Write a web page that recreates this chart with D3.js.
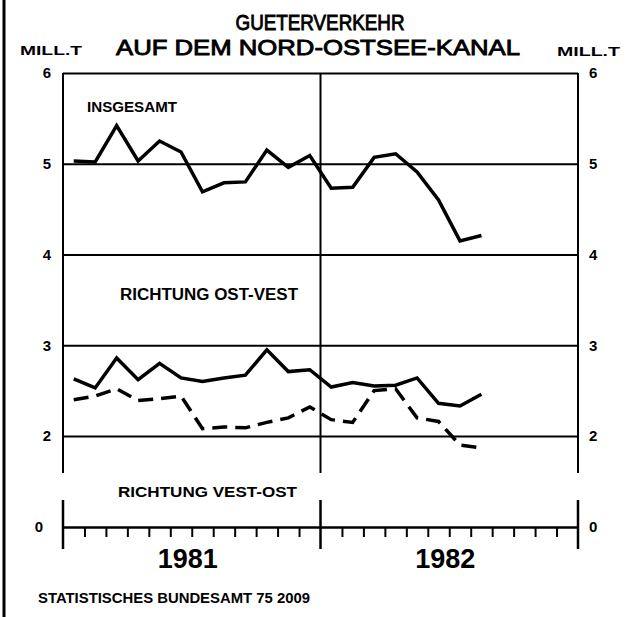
<!DOCTYPE html>
<html>
<head>
<meta charset="utf-8">
<script src="https://cdn.jsdelivr.net/npm/d3@7"></script>
<style>
  body { margin: 0; background: #fff; }
  svg { display: block; }
  text { font-family: "Liberation Sans", Arial, sans-serif; fill: #000; }
</style>
</head>
<body>
<script>
// monthly values, Jan 1981 - Aug 1982 (mill. t)
var months = ["J81","F81","M81","A81","M81","J81","J81","A81","S81","O81","N81","D81",
              "J82","F82","M82","A82","M82","J82","J82","A82"];
var insgesamt = [5.03, 5.02, 5.42, 5.03, 5.25, 5.13, 4.69, 4.79, 4.80, 5.15, 4.96, 5.09,
                 4.73, 4.74, 5.07, 5.11, 4.91, 4.60, 4.15, 4.21];
var ostWest   = [2.63, 2.53, 2.86, 2.62, 2.80, 2.64, 2.60, 2.64, 2.67, 2.95, 2.71, 2.73,
                 2.54, 2.59, 2.55, 2.56, 2.64, 2.36, 2.33, 2.46];
var westOst   = [2.40, 2.44, 2.52, 2.39, 2.41, 2.44, 2.08, 2.10, 2.09, 2.15, 2.20, 2.32,
                 2.18, 2.15, 2.50, 2.52, 2.20, 2.16, 1.80, 1.74];
var years = ["1981", "1982"];
var gridTicks = [2, 3, 4, 5, 6];
var rightTicks = [0, 2, 3, 4, 5, 6];

var W = 632, H = 617;
var left = 63, right = 578;

var svg = d3.select("body").append("svg")
    .attr("width", W)
    .attr("height", H);

// x: months 0..24, points at mid month
var x = d3.scaleLinear().domain([0, 24]).range([left, right]);
// y: broken axis, 0 sits just below 2
var y = d3.scaleLinear().domain([0, 2, 6]).range([527, 436, 73]);

// page border on the left
svg.append("line")
    .attr("x1", 4).attr("x2", 4).attr("y1", 0).attr("y2", H)
    .attr("stroke", "#000").attr("stroke-width", 3);

// title
svg.append("text").attr("x", 320).attr("y", 30)
    .attr("text-anchor", "middle").style("font-size", "22px")
    .attr("textLength", 169).attr("lengthAdjust", "spacingAndGlyphs")
    .attr("stroke", "#000").attr("stroke-width", 0.9)
    .text("GUETERVERKEHR");
svg.append("text").attr("x", 318).attr("y", 55)
    .attr("text-anchor", "middle").style("font-size", "22px")
    .attr("textLength", 404).attr("lengthAdjust", "spacingAndGlyphs")
    .attr("stroke", "#000").attr("stroke-width", 0.9)
    .text("AUF DEM NORD-OSTSEE-KANAL");

// unit labels
svg.append("text").attr("x", 20).attr("y", 55)
    .style("font-size", "13px").style("font-weight", "bold")
    .attr("textLength", 62).attr("lengthAdjust", "spacingAndGlyphs")
    .text("MILL.T");
svg.append("text").attr("x", 557).attr("y", 56)
    .style("font-size", "13px").style("font-weight", "bold")
    .attr("textLength", 63).attr("lengthAdjust", "spacingAndGlyphs")
    .text("MILL.T");

// gridlines + left labels
var yAxisL = d3.axisLeft(y).tickValues(gridTicks)
    .tickSizeInner(-(right - left)).tickSizeOuter(0).tickPadding(12)
    .tickFormat(d3.format("d"));
var gL = svg.append("g").attr("transform", "translate(" + left + ",0)").call(yAxisL);
gL.select(".domain").remove();
gL.selectAll(".tick line").attr("stroke", "#000").attr("stroke-width", 2);
gL.selectAll(".tick text").style("font-size", "15px").style("font-weight", "bold")
    .style("font-family", "Liberation Sans, Arial, sans-serif");

// 0 label on the left
var yAxisL0 = d3.axisLeft(y).tickValues([0]).tickSize(0).tickPadding(20)
    .tickFormat(d3.format("d"));
var gL0 = svg.append("g").attr("transform", "translate(" + left + ",0)").call(yAxisL0);
gL0.select(".domain").remove();
gL0.selectAll(".tick text").style("font-size", "15px").style("font-weight", "bold")
    .style("font-family", "Liberation Sans, Arial, sans-serif");

// right labels
var yAxisR = d3.axisRight(y).tickValues(rightTicks).tickSize(0).tickPadding(11)
    .tickFormat(d3.format("d"));
var gR = svg.append("g").attr("transform", "translate(" + right + ",0)").call(yAxisR);
gR.select(".domain").remove();
gR.selectAll(".tick text").style("font-size", "15px").style("font-weight", "bold")
    .style("font-family", "Liberation Sans, Arial, sans-serif");

// vertical frame lines (left, year boundary, right)
[0, 12, 24].forEach(function(m) {
  svg.append("line")
      .attr("x1", x(m)).attr("x2", x(m))
      .attr("y1", y(6)).attr("y2", y(2) + 37)
      .attr("stroke", "#000").attr("stroke-width", 2);
  svg.append("line")
      .attr("x1", x(m)).attr("x2", x(m))
      .attr("y1", y(0) - 27).attr("y2", y(0) + 22)
      .attr("stroke", "#000").attr("stroke-width", 2.5);
});

// bottom month axis
var monthTicks = d3.range(1, 24).filter(function(m) { return m !== 12; });
var xAxis = d3.axisBottom(x).tickValues(monthTicks).tickSize(10).tickSizeOuter(0)
    .tickFormat("");
var gX = svg.append("g").attr("transform", "translate(0," + y(0) + ")").call(xAxis);
gX.select(".domain").attr("stroke", "#000").attr("stroke-width", 2.5);
gX.selectAll(".tick line").attr("stroke", "#000").attr("stroke-width", 2);

// year labels
years.forEach(function(yr, i) {
  svg.append("text").attr("x", x(i * 12 + 6) - 4).attr("y", 568)
      .attr("text-anchor", "middle").style("font-size", "27px").style("font-weight", "bold")
      .text(yr);
});

// panel labels
function label(txt, xx, yy, len, size) {
  svg.append("text").attr("x", xx).attr("y", yy)
      .style("font-size", size + "px").style("font-weight", "bold")
      .attr("textLength", len).attr("lengthAdjust", "spacingAndGlyphs")
      .text(txt);
}
label("INSGESAMT", 87, 112, 90, 15);
label("RICHTUNG OST-VEST", 120, 300, 178, 16);
label("RICHTUNG VEST-OST", 118, 497, 179, 15);
label("STATISTISCHES BUNDESAMT 75 2009", 38, 603, 272, 15);

// data lines
var line = d3.line()
    .x(function(d, i) { return x(i + 0.5); })
    .y(function(d) { return y(d); });

svg.append("path").datum(insgesamt)
    .attr("d", line).attr("fill", "none")
    .attr("stroke", "#000").attr("stroke-width", 3.5).attr("stroke-linejoin", "miter");
svg.append("path").datum(ostWest)
    .attr("d", line).attr("fill", "none")
    .attr("stroke", "#000").attr("stroke-width", 3.5).attr("stroke-linejoin", "miter");
svg.append("path").datum(westOst)
    .attr("d", line).attr("fill", "none")
    .attr("stroke", "#000").attr("stroke-width", 3.5)
    .attr("stroke-dasharray", "15,8");
</script>
</body>
</html>
